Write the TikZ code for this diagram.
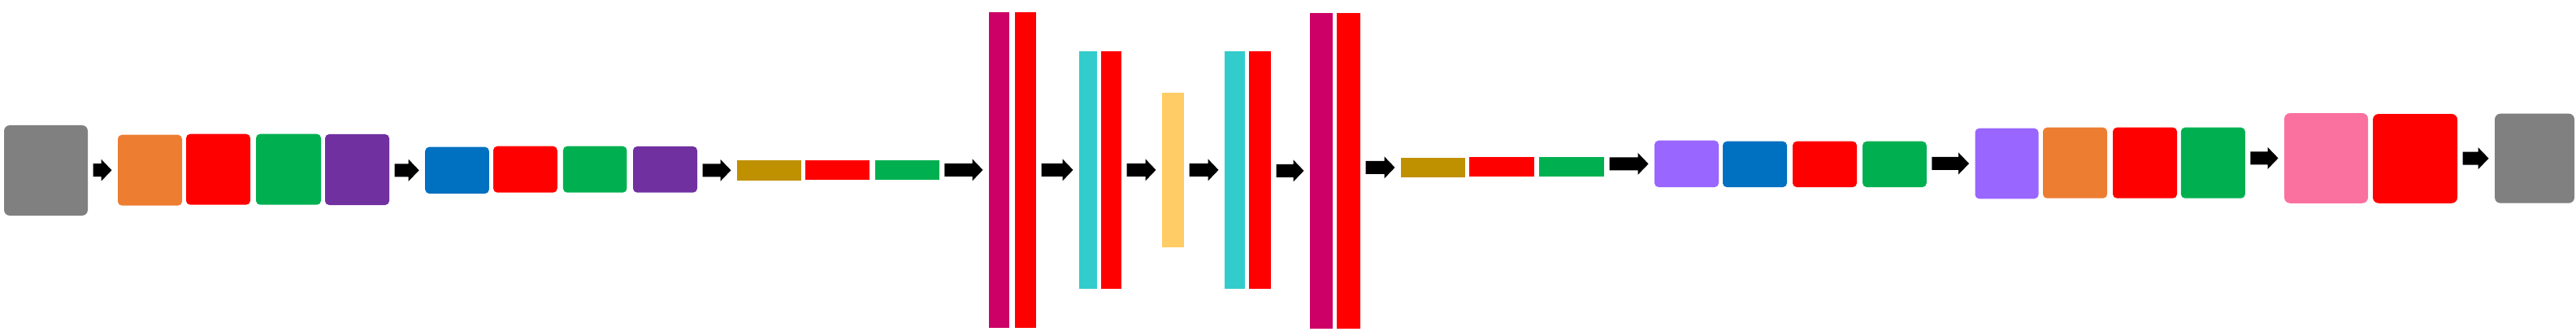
\documentclass[tikz,border=0pt]{standalone}
\usepackage{tikz}
\usetikzlibrary{calc}
\definecolor{cgray}{HTML}{808080}
\definecolor{cred}{HTML}{FF0000}
\definecolor{corange}{HTML}{ED7D31}
\definecolor{cgreen}{HTML}{00B050}
\definecolor{cpurple}{HTML}{7030A0}
\definecolor{cblue}{HTML}{0070C0}
\definecolor{cgold}{HTML}{BF9000}
\definecolor{cmagenta}{HTML}{CC0066}
\definecolor{ccyan}{HTML}{33CCCC}
\definecolor{cyellow}{HTML}{FFCC66}
\definecolor{clav}{HTML}{9966FF}
\definecolor{cpink}{HTML}{FA71A0}
\newcommand{\fatarr}[2]{\fill let \p1=($(#1.east |- #2.west)+(0.065cm,0)$), \p2=($(#2.west)-(0.075cm,0)$) in
    (\x1,\y2+0.08cm) -- (\x2-0.13cm,\y2+0.08cm) -- (\x2-0.13cm,\y2+0.135cm) -- (\x2,\y2)
    -- (\x2-0.13cm,\y2-0.135cm) -- (\x2-0.13cm,\y2-0.08cm) -- (\x1,\y2-0.08cm) -- cycle;}

\begin{document}
\begin{tikzpicture}[blk/.style={inner sep=0pt,outer sep=0pt,rounded corners=0.05cm},
        big/.style={blk,rounded corners=0.07cm},
        bar/.style={inner sep=0pt,outer sep=0pt}]
        \useasboundingbox (0,0) rectangle (31.70,-4.13);

        \node[big,fill=cgray,minimum width=1.03cm,minimum height=1.11cm] (in) at (0.565,-2.095) {};

        \node[blk,fill=corange,minimum width=0.79cm,minimum height=0.87cm] (oA) at (1.845,-2.092) {};
        \node[blk,fill=cred,minimum width=0.79cm,minimum height=0.87cm] (rA) at (2.685,-2.082) {};
        \node[blk,fill=cgreen,minimum width=0.80cm,minimum height=0.87cm] (gA) at (3.55,-2.082) {};
        \node[blk,fill=cpurple,minimum width=0.79cm,minimum height=0.87cm] (pA) at (4.395,-2.085) {};

        \node[blk,fill=cblue,minimum width=0.786cm,minimum height=0.573cm] (bB) at (5.625,-2.093) {};
        \node[blk,fill=cred,minimum width=0.787cm,minimum height=0.57cm] (rB) at (6.464,-2.082) {};
        \node[blk,fill=cgreen,minimum width=0.785cm,minimum height=0.57cm] (gB) at (7.322,-2.082) {};
        \node[blk,fill=cpurple,minimum width=0.79cm,minimum height=0.567cm] (pB) at (8.185,-2.083) {};

        \node[bar,fill=cgold,minimum width=0.79cm,minimum height=0.247cm] (yC) at (9.465,-2.093) {};
        \node[bar,fill=cred,minimum width=0.79cm,minimum height=0.237cm] (rC) at (10.305,-2.088) {};
        \node[bar,fill=cgreen,minimum width=0.79cm,minimum height=0.237cm] (gC) at (11.163,-2.088) {};

        \node[bar,fill=cmagenta,minimum width=0.25cm,minimum height=3.877cm] (mD) at (12.295,-2.089) {};
        \node[bar,fill=cred,minimum width=0.26cm,minimum height=3.877cm] (rD) at (12.62,-2.089) {};

        \node[bar,fill=ccyan,minimum width=0.22cm,minimum height=2.917cm] (cE) at (13.39,-2.089) {};
        \node[bar,fill=cred,minimum width=0.25cm,minimum height=2.917cm] (rE) at (13.675,-2.089) {};

        \node[bar,fill=cyellow,minimum width=0.27cm,minimum height=1.897cm] (yF) at (14.435,-2.089) {};

        \node[bar,fill=ccyan,minimum width=0.25cm,minimum height=2.917cm] (cG) at (15.195,-2.089) {};
        \node[bar,fill=cred,minimum width=0.27cm,minimum height=2.917cm] (rG) at (15.505,-2.089) {};

        \node[bar,fill=cmagenta,minimum width=0.28cm,minimum height=3.877cm] (mH) at (16.26,-2.099) {};
        \node[bar,fill=cred,minimum width=0.29cm,minimum height=3.877cm] (rH) at (16.595,-2.099) {};

        \node[bar,fill=cgold,minimum width=0.79cm,minimum height=0.237cm] (yI) at (17.635,-2.059) {};
        \node[bar,fill=cred,minimum width=0.80cm,minimum height=0.237cm] (rI) at (18.48,-2.049) {};
        \node[bar,fill=cgreen,minimum width=0.80cm,minimum height=0.237cm] (gI) at (19.34,-2.049) {};

        \node[blk,fill=clav,minimum width=0.79cm,minimum height=0.573cm] (lJ) at (20.755,-2.014) {};
        \node[blk,fill=cblue,minimum width=0.79cm,minimum height=0.563cm] (bJ) at (21.595,-2.019) {};
        \node[blk,fill=cred,minimum width=0.79cm,minimum height=0.563cm] (rJ) at (22.455,-2.019) {};
        \node[blk,fill=cgreen,minimum width=0.787cm,minimum height=0.563cm] (gJ) at (23.314,-2.019) {};

        \node[blk,fill=clav,minimum width=0.78cm,minimum height=0.866cm] (lK) at (24.695,-2.01) {};
        \node[blk,fill=corange,minimum width=0.79cm,minimum height=0.87cm] (oK) at (25.535,-2.002) {};
        \node[blk,fill=cred,minimum width=0.79cm,minimum height=0.87cm] (rK) at (26.395,-2.002) {};
        \node[blk,fill=cgreen,minimum width=0.79cm,minimum height=0.87cm] (gK) at (27.233,-2.002) {};

        \node[big,fill=cpink,minimum width=1.03cm,minimum height=1.107cm] (pL) at (28.625,-1.944) {};
        \node[big,fill=cred,minimum width=1.04cm,minimum height=1.097cm] (rL) at (29.72,-1.949) {};

        \node[big,fill=cgray,minimum width=0.98cm,minimum height=1.10cm] (out) at (31.19,-1.947) {};

        \fatarr{in}{oA}
        \fatarr{pA}{bB}
        \fatarr{pB}{yC}
        \fatarr{gC}{mD}
        \fatarr{rD}{cE}
        \fatarr{rE}{yF}
        \fatarr{yF}{cG}
        \fatarr{rG}{mH}
        \fatarr{rH}{yI}
        \fatarr{gI}{lJ}
        \fatarr{gJ}{lK}
        \fatarr{gK}{pL}
        \fatarr{rL}{out}
    \end{tikzpicture}
\end{document}
